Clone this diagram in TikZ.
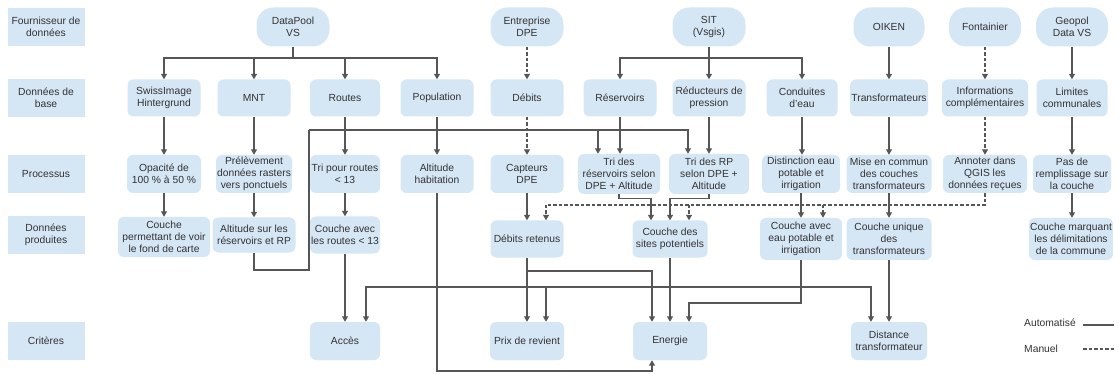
\documentclass[tikz,border=0pt]{standalone}
\usepackage{fontspec}
\setmainfont{Liberation Sans}
\usetikzlibrary{arrows.meta}
\definecolor{boxc}{HTML}{D5E6F5}
\definecolor{linec}{HTML}{565656}
\definecolor{txtc}{HTML}{333333}
\begin{document}
\begin{tikzpicture}[x=1pt,y=-1pt,
  every node/.style={text=txtc, font=\fontsize{10.3}{12}\selectfont},
  box/.style={fill=boxc, rounded corners=6pt, minimum width=73pt, minimum height=37pt, align=center, inner sep=1pt},
  pill/.style={box, rounded corners=17pt, minimum height=39pt},
  lab/.style={fill=boxc, minimum width=77pt, minimum height=38pt, align=center, inner sep=1pt},
  arr/.style={draw=linec, line width=1.1pt, -{Triangle[width=6pt,length=5.5pt]}},
  ln/.style={draw=linec, line width=1.1pt},
  dsh/.style={dash pattern=on 3.5pt off 2pt}]
\fill[white] (0,0) rectangle (1119,374);
\useasboundingbox (0,0) rectangle (1119,374);

% left labels
\node[lab] (l1) at (46,27) {Fournisseur de\\données};
\node[lab] (l2) at (46,98) {Données de\\base};
\node[lab] (l3) at (46,174) {Processus};
\node[lab] (l4) at (46,235) {Données\\produites};
\node[lab] (l5) at (46,341) {Critères};

% providers
\node[pill] (dp) at (293,27) {DataPool\\VS};
\node[pill] (ed) at (527,27) {Entreprise\\DPE};
\node[pill] (sit) at (709,27) {SIT\\(Vsgis)};
\node[pill,minimum width=71pt] (oik) at (889,27) {OIKEN};
\node[pill,minimum width=72pt] (fon) at (985,27) {Fontainier};
\node[pill,minimum width=72pt] (geo) at (1072,27) {Geopol\\Data VS};

% base data
\node[box] (swi) at (164,98) {SwissImage\\Hintergrund};
\node[box] (mnt) at (254,98) {MNT};
\node[box,minimum width=70pt] (rou) at (345,98) {Routes};
\node[box] (pop) at (437,98) {Population};
\node[box] (deb) at (527,98) {Débits};
\node[box] (res) at (620,98) {Réservoirs};
\node[box] (red) at (709,98) {Réducteurs de\\pression};
\node[box,minimum width=71pt] (con) at (802,98) {Conduites\\d'eau};
\node[box,minimum width=78pt] (tra) at (889,98) {Transformateurs};
\node[box,minimum width=86pt] (inf) at (985,98) {Informations\\complémentaires};
\node[box,minimum width=71pt] (lim) at (1072,98) {Limites\\communales};

% processes
\node[box,minimum width=74pt,minimum height=38pt] (opa) at (164,174) {Opacité de\\100 \% à 50 \%};
\node[box,minimum width=76pt,minimum height=38pt] (pre) at (254,174) {Prélèvement\\données rasters\\vers ponctuels};
\node[box,minimum width=70pt,minimum height=38pt] (tri) at (345,174) {Tri pour routes\\< 13};
\node[box,minimum height=38pt] (alt) at (437,174) {Altitude\\habitation};
\node[box,minimum height=38pt] (cap) at (527,174) {Capteurs\\DPE};
\node[box,minimum width=82pt,minimum height=40pt] (trr) at (619,174) {Tri des\\réservoirs selon\\DPE + Altitude};
\node[box,minimum width=80pt,minimum height=40pt] (trp) at (709,174) {Tri des RP\\selon DPE +\\Altitude};
\node[box,minimum width=78pt,minimum height=38pt] (dis) at (801,174) {Distinction eau\\potable et\\irrigation};
\node[box,minimum width=85pt,minimum height=38pt] (mis) at (889,174) {Mise en commun\\des couches\\transformateurs};
\node[box,minimum width=84pt,minimum height=38pt] (ann) at (985,174) {Annoter dans\\QGIS les\\données reçues};
\node[box,minimum width=78pt,minimum height=38pt] (pas) at (1072,174) {Pas de\\remplissage sur\\la couche};

% produced data
\node[box,minimum width=92pt,minimum height=40pt] (cou) at (164,237) {Couche\\permettant de voir\\le fond de carte};
\node[box,minimum width=83pt,minimum height=35pt] (alr) at (254,235) {Altitude sur les\\réservoirs et RP};
\node[box,minimum width=70pt] (car) at (345,235) {Couche avec\\les routes < 13};
\node[box] (dre) at (527,239) {Débits retenus};
\node[box,minimum width=75pt] (sites) at (670,239) {Couche des\\sites potentiels};
\node[box,minimum width=82pt,minimum height=42pt] (eau) at (801,239) {Couche avec\\eau potable et\\irrigation};
\node[box,minimum width=85pt,minimum height=42pt] (uni) at (889,239) {Couche unique\\des\\transformateurs};
\node[box,minimum width=83pt,minimum height=42pt] (mar) at (1071,239) {Couche marquant\\les délimitations\\de la commune};

% criteria
\node[box,minimum width=70pt,minimum height=38pt] (acc) at (345,341) {Accès};
\node[box,minimum width=74pt,minimum height=38pt] (prix) at (527,341) {Prix de revient};
\node[box,minimum width=74pt,minimum height=38pt] (ene) at (670,341) {Energie};
\node[box,minimum width=76pt,minimum height=38pt] (dist) at (889,341) {Distance\\transformateur};

% providers -> base data
\coordinate (j1) at (293,58);
\draw[ln] (dp.south) -- (j1);
\draw[arr] (j1) -| (swi.north);
\draw[arr] (j1) -| (mnt.north);
\draw[arr] (j1) -| (rou.north);
\draw[arr] (j1) -| (pop.north);
\draw[arr,dsh] (ed) -- (deb);
\coordinate (j2) at (709,58);
\draw[ln] (sit.south) -- (j2);
\draw[arr] (j2) -| (res.north);
\draw[arr] (j2) -- (red.north);
\draw[arr] (j2) -| (con.north);
\draw[arr] (oik) -- (tra);
\draw[arr,dsh] (fon) -- (inf);
\draw[arr] (geo) -- (lim);

% base data -> processes
\draw[arr] (swi) -- (opa);
\draw[arr] (mnt) -- (pre);
\draw[arr] (rou) -- (tri);
\draw[arr] (pop) -- (alt);
\draw[arr,dsh] (deb) -- (cap);
\draw[arr] (res.south) -- (res.south |- trr.north);
\draw[arr] (red) -- (trp);
\draw[arr] (con.south) -- (con.south |- dis.north);
\draw[arr] (tra) -- (mis);
\draw[arr,dsh] (inf) -- (ann);
\draw[arr] (lim) -- (pas);

% altitude loop
\coordinate (a1) at (309,270);
\coordinate (a2) at (309,130);
\draw[ln] (alr.south) |- (a1) -- (a2);
\draw[arr] (a2) -| ([xshift=-21pt]trr.north);
\draw[arr] (a2) -| ([xshift=-21pt]trp.north);

% processes -> produced data
\draw[arr] (opa) -- (cou);
\draw[arr] (pre) -- (alr);
\draw[arr] (tri) -- (car);
\draw[arr] (cap) -- (dre);
\draw[arr] (trr.south) -- ++(0,4) -| ([xshift=-19pt]sites.north);
\draw[arr] (trp.south) -- ++(0,4) -| (sites.north);
\draw[arr] (dis) -- (eau);
\draw[arr] (mis) -- (uni);
\draw[arr] (pas.south) -- (pas.south |- mar.north);

% manual annotations
\coordinate (d1) at (546,205);
\coordinate (d2) at (689,205);
\coordinate (d3) at (823,205);
\draw[ln,dsh] (ann.south) |- (d1);
\draw[arr,dsh] (d1) -- (dre.north -| d1);
\draw[arr,dsh] (d2) -- (sites.north -| d2);
\draw[arr,dsh] (d3) -- (eau.north -| d3);

% produced data -> criteria
\draw[arr] (car) -- (acc);
\draw[arr] (dre) -- (prix);
\coordinate (b1) at (527,271);
\draw[arr] (b1) -| ([xshift=-18pt]ene.north);
\draw[arr] (sites) -- (ene);
\coordinate (e1) at (801,303);
\draw[arr] (eau.south) -- (e1) -| ([xshift=19pt]ene.north);
\coordinate (e2) at (801,287);
\coordinate (e3) at (546,287);
\draw[arr] (e2) -| ([xshift=21pt]acc.north);
\draw[arr] (e3) -- (prix.north -| e3);
\draw[arr] (e2) -| ([xshift=-18pt]dist.north);
\draw[arr] (uni) -- (dist);
\coordinate (h1) at (437,371);
\draw[arr] (alt.south) -- (h1) -| ([xshift=-18pt]ene.south);

% legend
\node[anchor=west, inner sep=0pt] (la) at (1024,323) {Automatisé};
\node[anchor=west, inner sep=0pt] (lm) at (1024,349) {Manuel};
\coordinate (la1) at (1083,325);
\coordinate (la2) at (1114,325);
\coordinate (lm1) at (1083,349);
\coordinate (lm2) at (1114,349);
\draw[ln] (la1) -- (la2);
\draw[ln,dsh] (lm1) -- (lm2);
\end{tikzpicture}
\end{document}
